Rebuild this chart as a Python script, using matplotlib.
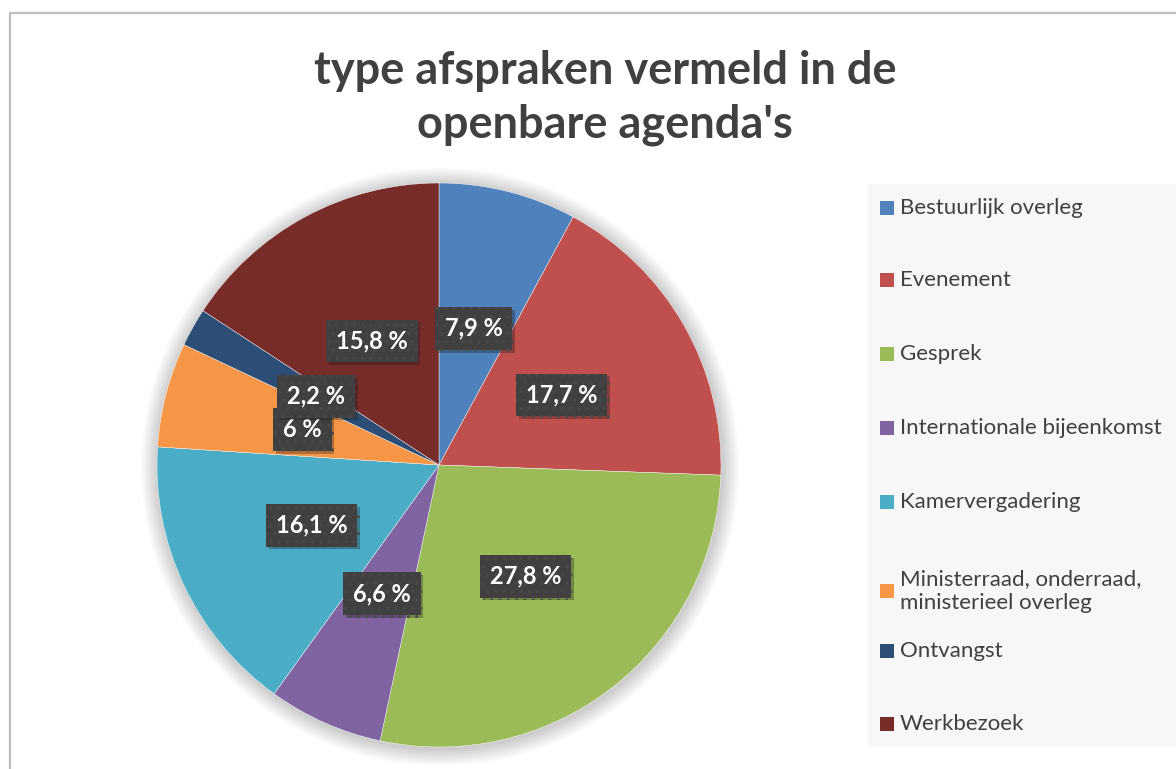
#!/usr/bin/env python3
"""Pie chart: type afspraken vermeld in de openbare agenda's."""

import matplotlib
matplotlib.use("Agg")
import matplotlib.pyplot as plt
import matplotlib.patheffects as pe
import numpy as np
from matplotlib.patches import Circle, Rectangle

plt.rcParams["font.family"] = ["Lato", "DejaVu Sans"]

categories = [
    "Bestuurlijk overleg",
    "Evenement",
    "Gesprek",
    "Internationale bijeenkomst",
    "Kamervergadering",
    "Ministerraad, onderraad,\nministerieel overleg",
    "Ontvangst",
    "Werkbezoek",
]
shares = [7.9, 17.7, 27.8, 6.6, 16.1, 6.0, 2.2, 15.8]
colors = ["#4F81BD", "#C0504D", "#9BBB59", "#8064A2",
          "#4BACC6", "#F79646", "#2C4D75", "#772C2A"]
title = "type afspraken vermeld in de\nopenbare agenda's"


def fmt(v):
    s = f"{v:.1f}".replace(".", ",")
    if s.endswith(",0"):
        s = s[:-2]
    return s + " %"


W, H = 1176, 769
fig = plt.figure(figsize=(W / 100, H / 100), dpi=100)
fig.patch.set_facecolor("white")

# outer chart frame (cut off on the right and bottom)
fig.patches.append(Rectangle((10 / W, -0.05), 1.2, 1 - 13 / H + 0.05,
                             transform=fig.transFigure, fill=False,
                             ec="#bfbfbf", lw=1.6))
# legend background
fig.patches.append(Rectangle((868 / W, 1 - 747 / H), 1.0, (747 - 184) / H,
                             transform=fig.transFigure, fc="#f7f7f7",
                             ec="none", zorder=0))

fig.text(605 / W, 1 - 98 / H, title, ha="center", va="center",
         fontsize=32.5, fontweight="bold", color="#404040", linespacing=1.32)

cx, cy, r = 439, 465, 282
ax = fig.add_axes([(cx - r) / W, 1 - (cy + r) / H, 2 * r / W, 2 * r / H])
ax.set_facecolor("none")

# soft glow behind the pie
for k in range(10):
    ax.add_patch(Circle((0.004, -0.006), 1.0 + 0.006 * (k + 1), fc="#000000",
                        alpha=0.018, ec="none", zorder=0, clip_on=False))

wedges, _ = ax.pie(shares, colors=colors, startangle=90, counterclock=False,
                   radius=1.0, wedgeprops=dict(ec="#ffffff", lw=0.3))
for w in wedges:
    w.set_zorder(2)
    w.set_clip_on(False)

for w, v in zip(wedges, shares):
    ang = np.deg2rad((w.theta1 + w.theta2) / 2)
    x, y = 0.5 * np.cos(ang), 0.5 * np.sin(ang)
    t = ax.text(x, y, fmt(v), ha="center", va="center",
                fontsize=17, fontweight="bold", color="white", zorder=5,
                bbox=dict(boxstyle="square,pad=0.42", fc="#404040",
                          ec="#4a4a4a", lw=0, hatch=".."))
    t.get_bbox_patch().set_path_effects(
        [pe.SimplePatchShadow(offset=(2, -2), alpha=0.3), pe.Normal()])

ax.set_xlim(-1, 1)
ax.set_ylim(-1, 1)
ax.axis("off")

# legend, drawn by hand to follow the reference spacing
leg_y = [208, 280, 354, 428, 502, 591, 651, 724]
for lab, col, yy in zip(categories, colors, leg_y):
    fig.patches.append(Rectangle((880 / W, 1 - (yy + 7) / H), 14 / W, 14 / H,
                                 transform=fig.transFigure, fc=col, ec="none"))
    fig.text(900 / W, 1 - yy / H, lab, ha="left", va="center",
             fontsize=16, color="#404040", linespacing=1.25)

fig.savefig("out.png", dpi=100)
